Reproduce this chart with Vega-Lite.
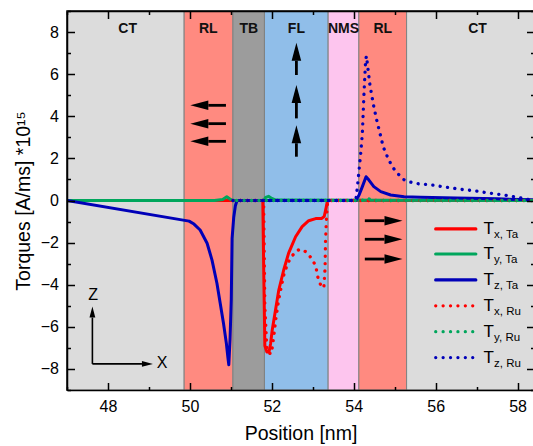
{
  "$schema": "https://vega.github.io/schema/vega-lite/v6.json",
  "width": 467,
  "height": 379,
  "autosize": {"type": "none"},
  "padding": {"left": 67, "top": 11, "right": 0, "bottom": 56},
  "config": {"view": {"stroke": "black", "strokeWidth": 1.5}, "font": "Liberation Sans"},
  "resolve": {"axis": {"x": "independent", "y": "independent"}},
  "datasets": {
    "regions": [
      {"name": "CT", "start": 47, "end": 49.86, "mid": 48.48},
      {"name": "RL", "start": 49.86, "end": 51.05, "mid": 50.45},
      {"name": "TB", "start": 51.05, "end": 51.82, "mid": 51.44},
      {"name": "FL", "start": 51.82, "end": 53.375, "mid": 52.6},
      {"name": "NMS", "start": 53.375, "end": 54.125, "mid": 53.75},
      {"name": "RL", "start": 54.125, "end": 55.29, "mid": 54.71},
      {"name": "CT", "start": 55.29, "end": 58.4, "mid": 57.02}
    ],
    "arrows": [
      {"x1": 50.88, "y1": 4.52, "x2": 50.45, "y2": 4.52, "dir": "left"},
      {"x1": 50.88, "y1": 3.65, "x2": 50.45, "y2": 3.65, "dir": "left"},
      {"x1": 50.88, "y1": 2.81, "x2": 50.45, "y2": 2.81, "dir": "left"},
      {"x1": 54.27, "y1": -0.96, "x2": 54.75, "y2": -0.96, "dir": "right"},
      {"x1": 54.27, "y1": -1.84, "x2": 54.75, "y2": -1.84, "dir": "right"},
      {"x1": 54.27, "y1": -2.78, "x2": 54.75, "y2": -2.78, "dir": "right"},
      {"x1": 52.6, "y1": 5.96, "x2": 52.6, "y2": 6.64, "dir": "up"},
      {"x1": 52.6, "y1": 3.9, "x2": 52.6, "y2": 4.63, "dir": "up"},
      {"x1": 52.6, "y1": 2.08, "x2": 52.6, "y2": 2.72, "dir": "up"}
    ],
    "axes3d": [
      {"x1": 47.62, "y1": -7.76, "x2": 47.62, "y2": -5.56, "dir": "up"},
      {"x1": 47.62, "y1": -7.76, "x2": 48.83, "y2": -7.76, "dir": "right"}
    ],
    "axesLetters": [
      {"t": "Z", "x": 47.64, "y": -4.49},
      {"t": "X", "x": 49.32, "y": -7.73}
    ],
    "legend": [
      {"s": "Tx,Ta", "sub": "x, Ta", "y": -1.35},
      {"s": "Ty,Ta", "sub": "y, Ta", "y": -2.54},
      {"s": "Tz,Ta", "sub": "z, Ta", "y": -3.77},
      {"s": "Tx,Ru", "sub": "x, Ru", "y": -5.0},
      {"s": "Ty,Ru", "sub": "y, Ru", "y": -6.23},
      {"s": "Tz,Ru", "sub": "z, Ru", "y": -7.46}
    ],
    "txta": [
      {"x": 47, "y": 0}, {"x": 51.78, "y": 0}, {"x": 51.8, "y": -3.0}, {"x": 51.83, "y": -6.9},
      {"x": 51.88, "y": -7.2}, {"x": 51.93, "y": -7.2}, {"x": 51.97, "y": -6.8}, {"x": 52.01, "y": -6.15},
      {"x": 52.09, "y": -5.2}, {"x": 52.17, "y": -4.25}, {"x": 52.29, "y": -3.3}, {"x": 52.41, "y": -2.5},
      {"x": 52.58, "y": -1.72}, {"x": 52.74, "y": -1.24}, {"x": 52.9, "y": -0.96}, {"x": 53.07, "y": -0.86},
      {"x": 53.22, "y": -0.85}, {"x": 53.28, "y": -0.75}, {"x": 53.33, "y": -0.3}, {"x": 53.36, "y": 0},
      {"x": 58.4, "y": 0}
    ],
    "tyta": [
      {"x": 47, "y": 0}, {"x": 50.6, "y": 0}, {"x": 50.8, "y": 0.05}, {"x": 50.9, "y": 0.18},
      {"x": 50.97, "y": 0.08}, {"x": 51.05, "y": 0}, {"x": 51.8, "y": 0}, {"x": 51.85, "y": 0.15},
      {"x": 51.92, "y": 0.2}, {"x": 52.0, "y": 0.1}, {"x": 52.1, "y": 0.02}, {"x": 58.4, "y": 0}
    ],
    "tzta": [
      {"x": 47, "y": 0}, {"x": 49.98, "y": -0.98}, {"x": 50.1, "y": -1.12}, {"x": 50.25, "y": -1.4},
      {"x": 50.42, "y": -2.03}, {"x": 50.54, "y": -2.83}, {"x": 50.66, "y": -3.93}, {"x": 50.74, "y": -4.88},
      {"x": 50.82, "y": -5.83}, {"x": 50.89, "y": -6.78}, {"x": 50.93, "y": -7.5}, {"x": 50.95, "y": -7.8},
      {"x": 50.98, "y": -6.6}, {"x": 51.01, "y": -4.7}, {"x": 51.03, "y": -1.8}, {"x": 51.07, "y": -0.8},
      {"x": 51.11, "y": -0.25}, {"x": 51.15, "y": 0}, {"x": 54.05, "y": 0}, {"x": 54.13, "y": 0.26},
      {"x": 54.21, "y": 0.66}, {"x": 54.3, "y": 1.13}, {"x": 54.37, "y": 0.97}, {"x": 54.49, "y": 0.66},
      {"x": 54.66, "y": 0.42}, {"x": 54.9, "y": 0.26}, {"x": 55.23, "y": 0.18}, {"x": 55.63, "y": 0.16},
      {"x": 56.5, "y": 0.12}, {"x": 57.5, "y": 0.08}, {"x": 58.4, "y": 0.03}
    ],
    "txru": [
      {"x": 51.05, "y": 0}, {"x": 51.8, "y": 0}, {"x": 51.83, "y": -5.0}, {"x": 51.88, "y": -7.1},
      {"x": 51.93, "y": -7.25}, {"x": 51.99, "y": -7.28}, {"x": 52.05, "y": -6.4}, {"x": 52.1, "y": -5.6},
      {"x": 52.16, "y": -4.8}, {"x": 52.23, "y": -4.1}, {"x": 52.29, "y": -3.55}, {"x": 52.35, "y": -3.2},
      {"x": 52.41, "y": -2.9}, {"x": 52.51, "y": -2.6}, {"x": 52.6, "y": -2.4}, {"x": 52.68, "y": -2.32},
      {"x": 52.76, "y": -2.35}, {"x": 52.84, "y": -2.45}, {"x": 52.97, "y": -2.75}, {"x": 53.07, "y": -3.1},
      {"x": 53.13, "y": -3.7}, {"x": 53.2, "y": -4.05}, {"x": 53.27, "y": -4.15}, {"x": 53.3, "y": -3.2},
      {"x": 53.31, "y": -2.0}, {"x": 53.33, "y": -1.0}, {"x": 53.35, "y": -0.3}, {"x": 53.37, "y": 0},
      {"x": 58.4, "y": 0}
    ],
    "tyru": [
      {"x": 51.05, "y": 0}, {"x": 54.2, "y": 0}, {"x": 54.33, "y": 0.12}, {"x": 54.45, "y": 0}, {"x": 58.4, "y": 0}
    ],
    "tzru": [
      {"x": 51.05, "y": 0}, {"x": 54.05, "y": 0}, {"x": 54.09, "y": 0.66}, {"x": 54.13, "y": 1.45},
      {"x": 54.17, "y": 2.24}, {"x": 54.21, "y": 3.19}, {"x": 54.23, "y": 4.14}, {"x": 54.25, "y": 5.09},
      {"x": 54.27, "y": 5.88}, {"x": 54.29, "y": 6.67}, {"x": 54.31, "y": 6.86}, {"x": 54.35, "y": 6.2},
      {"x": 54.39, "y": 5.56}, {"x": 54.43, "y": 5.09}, {"x": 54.49, "y": 4.45}, {"x": 54.56, "y": 3.82},
      {"x": 54.64, "y": 3.19}, {"x": 54.72, "y": 2.55}, {"x": 54.82, "y": 2.08}, {"x": 54.94, "y": 1.6},
      {"x": 55.07, "y": 1.29}, {"x": 55.21, "y": 1.0}, {"x": 55.37, "y": 0.88}, {"x": 55.55, "y": 0.8},
      {"x": 55.9, "y": 0.74}, {"x": 56.26, "y": 0.63}, {"x": 56.61, "y": 0.53}, {"x": 56.96, "y": 0.46},
      {"x": 57.31, "y": 0.35}, {"x": 57.67, "y": 0.26}, {"x": 58.0, "y": 0.15}, {"x": 58.2, "y": 0.07},
      {"x": 58.4, "y": 0.0}
    ]
  },
  "layer": [
    {
      "data": {"name": "regions"},
      "mark": {"type": "rect", "stroke": "#808080", "strokeWidth": 1, "clip": true},
      "encoding": {
        "x": {
          "field": "start", "type": "quantitative",
          "scale": {"domain": [47, 58.4], "nice": false, "zero": false},
          "axis": {
            "orient": "bottom", "zindex": 2,
            "values": [47, 48, 49, 50, 51, 52, 53, 54, 55, 56, 57, 58],
            "labelExpr": "datum.value % 2 === 0 ? datum.label : ''",
            "format": "d",
            "tickSize": {"condition": {"test": "datum.value % 2 === 0", "value": -7.5}, "value": -3.5},
            "tickColor": "black", "tickWidth": 1.5,
            "domainColor": "black", "domainWidth": 1.5,
            "labelFont": "Liberation Sans", "labelFontSize": 16, "labelColor": "black",
            "labelPadding": 15.5, "labelFlush": false, "labelOverlap": false,
            "grid": false,
            "title": "Position [nm]", "titleFont": "Liberation Sans", "titleFontSize": 19.5,
            "titleFontWeight": "normal", "titleColor": "black", "titlePadding": 6
          }
        },
        "x2": {"field": "end"},
        "y": {
          "datum": -9, "type": "quantitative",
          "scale": {"domain": [-9, 9], "nice": false, "zero": false},
          "axis": {
            "orient": "left", "zindex": 2,
            "values": [-9, -8, -7, -6, -5, -4, -3, -2, -1, 0, 1, 2, 3, 4, 5, 6, 7, 8, 9],
            "labelExpr": "datum.value % 2 === 0 ? datum.label : ''",
            "format": "d",
            "tickSize": {"condition": {"test": "datum.value % 2 === 0", "value": -7.5}, "value": -3.5},
            "tickColor": "black", "tickWidth": 1.5,
            "domainColor": "black", "domainWidth": 1.5,
            "labelFont": "Liberation Sans", "labelFontSize": 16, "labelColor": "black",
            "labelPadding": 16, "labelFlush": false, "labelOverlap": false,
            "grid": false,
            "title": "Torques [A/ms] *10¹⁵", "titleFont": "Liberation Sans", "titleFontSize": 19.5,
            "titleFontWeight": "normal", "titleColor": "black", "titlePadding": 7
          }
        },
        "y2": {"datum": 9},
        "fill": {
          "field": "name", "type": "nominal",
          "scale": {"domain": ["CT", "RL", "TB", "FL", "NMS"], "range": ["#dcdcdc", "#ff8a80", "#9c9c9c", "#90bee9", "#fdc5ee"]},
          "legend": null
        }
      }
    },
    {
      "data": {"name": "regions"},
      "mark": {"type": "text", "fontWeight": "bold", "fontSize": 14, "font": "Liberation Sans", "color": "#111111", "baseline": "middle", "align": "center"},
      "encoding": {
        "x": {
          "field": "mid", "type": "quantitative",
          "scale": {"domain": [47, 58.4], "nice": false, "zero": false},
          "axis": {
            "orient": "top", "zindex": 2,
            "values": [47, 48, 49, 50, 51, 52, 53, 54, 55, 56, 57, 58],
            "labels": false,
            "tickSize": {"condition": {"test": "datum.value % 2 === 0", "value": -7.5}, "value": -3.5},
            "tickColor": "black", "tickWidth": 1.5,
            "domainColor": "black", "domainWidth": 1.5,
            "grid": false, "title": null
          }
        },
        "y": {
          "datum": 8.13, "type": "quantitative",
          "scale": {"domain": [-9, 9], "nice": false, "zero": false},
          "axis": {
            "orient": "right", "zindex": 2,
            "values": [-9, -8, -7, -6, -5, -4, -3, -2, -1, 0, 1, 2, 3, 4, 5, 6, 7, 8, 9],
            "labels": false,
            "tickSize": {"condition": {"test": "datum.value % 2 === 0", "value": -7.5}, "value": -3.5},
            "tickColor": "black", "tickWidth": 1.5,
            "domainColor": "black", "domainWidth": 1.5,
            "grid": false, "title": null
          }
        },
        "text": {"field": "name"}
      }
    },
    {
      "data": {"name": "arrows"},
      "mark": {"type": "rule", "color": "black", "strokeWidth": 2.8},
      "encoding": {
        "x": {"field": "x1", "type": "quantitative", "axis": null},
        "x2": {"field": "x2"},
        "y": {"field": "y1", "type": "quantitative", "axis": null},
        "y2": {"field": "y2"}
      }
    },
    {
      "data": {"name": "arrows"},
      "mark": {"type": "point", "filled": true, "color": "black", "opacity": 1, "size": 324, "strokeWidth": 0},
      "encoding": {
        "x": {"field": "x2", "type": "quantitative", "axis": null},
        "y": {"field": "y2", "type": "quantitative", "axis": null},
        "shape": {
          "field": "dir", "type": "nominal",
          "scale": {"domain": ["left", "right", "up"], "range": ["M-2,0L0,-0.53L0,0.53Z", "M2,0L0,-0.53L0,0.53Z", "M0,-2L-0.53,0L0.53,0Z"]},
          "legend": null
        }
      }
    },
    {
      "data": {"name": "txta"},
      "mark": {"type": "line", "color": "#ff0000", "strokeWidth": 3, "strokeJoin": "round", "clip": true},
      "encoding": {
        "x": {"field": "x", "type": "quantitative", "axis": null},
        "y": {"field": "y", "type": "quantitative", "axis": null}
      }
    },
    {
      "data": {"name": "tyta"},
      "mark": {"type": "line", "color": "#00a65c", "strokeWidth": 3, "strokeJoin": "round", "clip": true},
      "encoding": {
        "x": {"field": "x", "type": "quantitative", "axis": null},
        "y": {"field": "y", "type": "quantitative", "axis": null}
      }
    },
    {
      "data": {"name": "tzta"},
      "mark": {"type": "line", "color": "#0000b8", "strokeWidth": 3, "strokeJoin": "round", "clip": true},
      "encoding": {
        "x": {"field": "x", "type": "quantitative", "axis": null},
        "y": {"field": "y", "type": "quantitative", "axis": null}
      }
    },
    {
      "data": {"name": "txru"},
      "mark": {"type": "line", "color": "#ff0000", "strokeWidth": 3.3, "strokeDash": [0.1, 7.3], "strokeCap": "round", "clip": true},
      "encoding": {
        "x": {"field": "x", "type": "quantitative", "axis": null},
        "y": {"field": "y", "type": "quantitative", "axis": null}
      }
    },
    {
      "data": {"name": "tyru"},
      "mark": {"type": "line", "color": "#00a65c", "strokeWidth": 3.3, "strokeDash": [0.1, 7.3], "strokeDashOffset": 3.6, "strokeCap": "round", "clip": true},
      "encoding": {
        "x": {"field": "x", "type": "quantitative", "axis": null},
        "y": {"field": "y", "type": "quantitative", "axis": null}
      }
    },
    {
      "data": {"name": "tzru"},
      "mark": {"type": "line", "color": "#0000b8", "strokeWidth": 3.3, "strokeDash": [0.1, 7.3], "strokeCap": "round", "clip": true},
      "encoding": {
        "x": {"field": "x", "type": "quantitative", "axis": null},
        "y": {"field": "y", "type": "quantitative", "axis": null}
      }
    },
    {
      "data": {"name": "legend"},
      "mark": {"type": "rule", "strokeWidth": 3.2, "strokeCap": "round"},
      "encoding": {
        "x": {"datum": 56.0, "type": "quantitative", "axis": null},
        "x2": {"datum": 56.98},
        "y": {"field": "y", "type": "quantitative", "axis": null},
        "color": {
          "field": "s", "type": "nominal",
          "scale": {"domain": ["Tx,Ta", "Ty,Ta", "Tz,Ta", "Tx,Ru", "Ty,Ru", "Tz,Ru"], "range": ["#ff0000", "#00a65c", "#0000b8", "#ff0000", "#00a65c", "#0000b8"]},
          "legend": null
        },
        "strokeDash": {
          "field": "s", "type": "nominal",
          "scale": {"domain": ["Tx,Ta", "Ty,Ta", "Tz,Ta", "Tx,Ru", "Ty,Ru", "Tz,Ru"], "range": [[10, 0], [10, 0], [10, 0], [0.1, 7.3], [0.1, 7.3], [0.1, 7.3]]},
          "legend": null
        }
      }
    },
    {
      "data": {"name": "legend"},
      "mark": {"type": "text", "text": "T", "font": "Liberation Sans", "fontSize": 17, "align": "left", "baseline": "middle", "color": "black"},
      "encoding": {
        "x": {"datum": 57.17, "type": "quantitative", "axis": null},
        "y": {"field": "y", "type": "quantitative", "axis": null}
      }
    },
    {
      "data": {"name": "legend"},
      "mark": {"type": "text", "font": "Liberation Sans", "fontSize": 11.5, "align": "left", "baseline": "middle", "color": "black", "dx": 10.5, "dy": 6.5},
      "encoding": {
        "x": {"datum": 57.17, "type": "quantitative", "axis": null},
        "y": {"field": "y", "type": "quantitative", "axis": null},
        "text": {"field": "sub"}
      }
    },
    {
      "data": {"name": "axes3d"},
      "mark": {"type": "rule", "color": "black", "strokeWidth": 1.6},
      "encoding": {
        "x": {"field": "x1", "type": "quantitative", "axis": null},
        "x2": {"field": "x2"},
        "y": {"field": "y1", "type": "quantitative", "axis": null},
        "y2": {"field": "y2"}
      }
    },
    {
      "data": {"name": "axes3d"},
      "mark": {"type": "point", "filled": true, "color": "black", "opacity": 1, "size": 121, "strokeWidth": 0},
      "encoding": {
        "x": {"field": "x2", "type": "quantitative", "axis": null},
        "y": {"field": "y2", "type": "quantitative", "axis": null},
        "shape": {
          "field": "dir", "type": "nominal",
          "scale": {"domain": ["left", "right", "up"], "range": ["M-2,0L0,-0.53L0,0.53Z", "M2,0L0,-0.53L0,0.53Z", "M0,-2L-0.53,0L0.53,0Z"]},
          "legend": null
        }
      }
    },
    {
      "data": {"name": "axesLetters"},
      "mark": {"type": "text", "font": "Liberation Sans", "fontSize": 16, "align": "center", "baseline": "middle", "color": "black"},
      "encoding": {
        "x": {"field": "x", "type": "quantitative", "axis": null},
        "y": {"field": "y", "type": "quantitative", "axis": null},
        "text": {"field": "t"}
      }
    }
  ]
}
